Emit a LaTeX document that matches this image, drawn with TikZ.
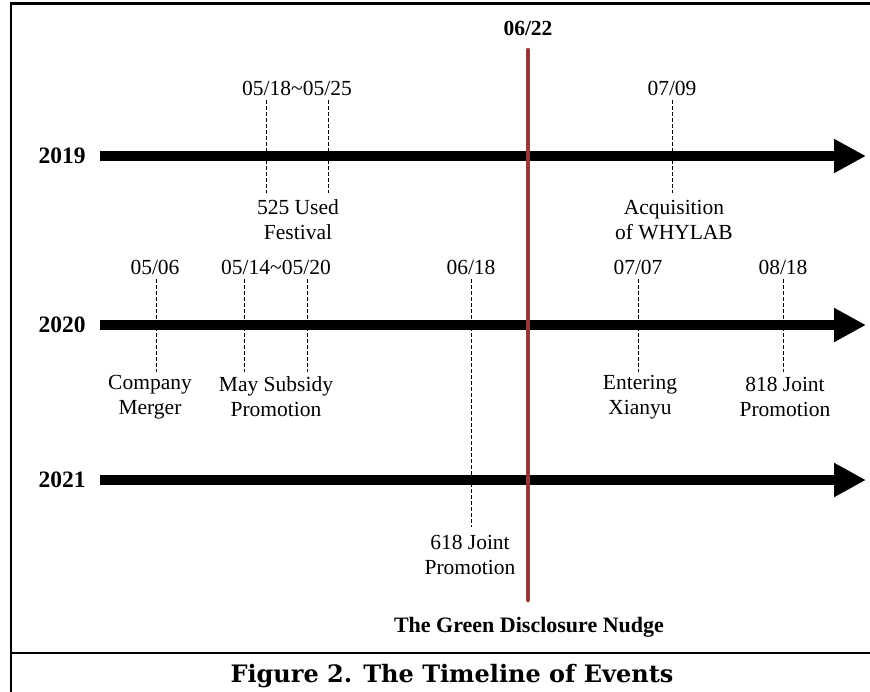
\documentclass[tikz,border=0pt]{standalone}
\usepackage{fontspec}
\setmainfont{Liberation Serif}
\newfontfamily\capfont{DejaVu Serif}
\usetikzlibrary{arrows.meta}
\definecolor{nudgered}{RGB}{152,58,51}
\begin{document}
\begin{tikzpicture}[x=1pt,y=-1pt,
  txt/.style={font=\fontsize{21.5}{25}\selectfont, align=center, inner sep=0pt},
  yr/.style={font=\fontsize{23.5}{26}\selectfont\bfseries, inner sep=0pt},
  tl/.style={line width=10pt, -{Triangle[length=32pt,width=32pt]}},
  tick/.style={line width=0.9pt, dash pattern=on 4pt off 2pt},
  frameline/.style={line width=2.6pt},
  nudge/.style={line width=4.5pt, draw=nudgered, line cap=round}]
\useasboundingbox (0,0) rectangle (870,691);
% frame
\draw[frameline] (871,3.5) -- (11,3.5) -- (11,692);
\draw[frameline] (11,653) -- (871,653);
% years and timelines
\node[yr] (y19) at (62,156) {2019};
\node[yr] (y20) at (62,325) {2020};
\node[yr] (y21) at (62,480) {2021};
\coordinate (s19) at (100,156); \coordinate (e19) at (866,156);
\coordinate (s20) at (100,325); \coordinate (e20) at (866,325);
\coordinate (s21) at (100,480); \coordinate (e21) at (866,480);
\draw[tl] (s19) -- (e19);
\draw[tl] (s20) -- (e20);
\draw[tl] (s21) -- (e21);
% 2019 events
\node[txt] (d1) at (297,88) {05/18\textasciitilde05/25};
\node[txt] (d2) at (672,88) {07/09};
\node[txt] (ev1) at (298,220) {525 Used\\Festival};
\node[txt] (ev2) at (674,220) {Acquisition\\of WHYLAB};
\coordinate (a1) at (266,100); \coordinate (b1) at (266,193);
\coordinate (a2) at (328,100); \coordinate (b2) at (328,193);
\coordinate (a3) at (672,100); \coordinate (b3) at (672,193);
\draw[tick] (a1) -- (b1);
\draw[tick] (a2) -- (b2);
\draw[tick] (a3) -- (b3);
% 2020 events
\node[txt] (d3) at (155,267) {05/06};
\node[txt] (d4) at (276,267) {05/14\textasciitilde05/20};
\node[txt] (d5) at (471,267) {06/18};
\node[txt] (d6) at (638,267) {07/07};
\node[txt] (d7) at (783,267) {08/18};
\node[txt] (ev3) at (150,397) {Company\\Merger};
\node[txt] (ev4) at (276,397) {May Subsidy\\Promotion};
\node[txt] (ev5) at (640,397) {Entering\\Xianyu};
\node[txt] (ev6) at (785,397) {818 Joint\\Promotion};
\node[txt] (ev7) at (470,555) {618 Joint\\Promotion};
\coordinate (a4) at (156,279); \coordinate (b4) at (156,372);
\coordinate (a5) at (244,279); \coordinate (b5) at (244,372);
\coordinate (a6) at (307,279); \coordinate (b6) at (307,372);
\coordinate (a7) at (471,279); \coordinate (b7) at (471,527);
\coordinate (a8) at (638,279); \coordinate (b8) at (638,372);
\coordinate (a9) at (783,279); \coordinate (b9) at (783,372);
\draw[tick] (a4) -- (b4);
\draw[tick] (a5) -- (b5);
\draw[tick] (a6) -- (b6);
\draw[tick] (a7) -- (b7);
\draw[tick] (a8) -- (b8);
\draw[tick] (a9) -- (b9);
% nudge line
\node[font=\fontsize{21.5}{24}\selectfont\bfseries, inner sep=0pt] (nd) at (528,28) {06/22};
\coordinate (n1) at (528,50); \coordinate (n2) at (528,600);
\draw[nudge] (n1) -- (n2);
\node[font=\fontsize{22}{24}\selectfont\bfseries, inner sep=0pt, anchor=base] (nl) at (529,632) {The Green Disclosure Nudge};
% caption
\node[font=\capfont\fontsize{24}{28}\selectfont\bfseries, inner sep=0pt, anchor=base] (cap) at (452,682) {Figure 2. The Timeline of Events};
\end{tikzpicture}
\end{document}
